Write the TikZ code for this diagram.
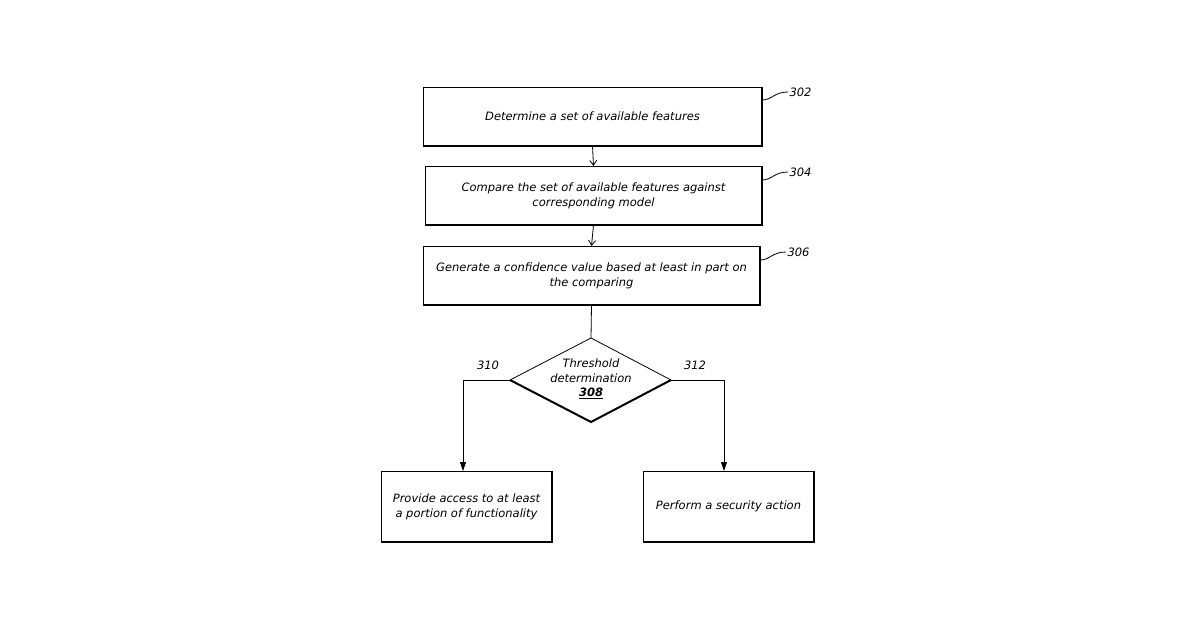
\documentclass[tikz,border=0pt]{standalone}
\usepackage{fontspec}
\setmainfont{DejaVu Sans}
\usetikzlibrary{arrows.meta}
\begin{document}
\begin{tikzpicture}[x=1pt,y=-1pt,
  txt/.style={font=\fontsize{11.5}{15}\selectfont\itshape,align=center},
  lbl/.style={font=\fontsize{11.5}{14}\selectfont\itshape},
  edge/.style={line width=0.8pt},
  arr/.style={line width=0.8pt,-{Straight Barb[length=5pt,width=7pt]}},
  farr/.style={line width=0.8pt,-{Triangle[length=9pt,width=6pt]}}]
\useasboundingbox (0,0) rectangle (1200,630);
\newcommand{\shbox}[5]{% name, x1,y1,x2,y2
  \draw[edge] (#2,#3) rectangle (#4,#5);
  \draw[line width=2pt] (#2+1,#5) -- (#4,#5) -- (#4,#3+1);
  \coordinate (#1) at ({(#2+#4)/2},{(#3+#5)/2});
  \coordinate (#1t) at ({(#2+#4)/2},#3);
  \coordinate (#1b) at ({(#2+#4)/2},#5);}
\shbox{b1}{423}{87}{762}{146}
\shbox{b2}{425}{166}{762}{225}
\shbox{b3}{423}{246}{760}{305}
\shbox{b4}{381}{471}{552}{542}
\shbox{b5}{643}{471}{814}{542}
\node[txt] (t1) at (b1) {Determine a set of available features};
\node[txt] (t2) at (b2) {Compare the set of available features against\\corresponding model};
\node[txt] (t3) at (b3) {Generate a confidence value based at least in part on\\the comparing};
\node[txt] (t4) at (b4) {Provide access to at least\\a portion of functionality};
\node[txt] (t5) at (b5) {Perform a security action};
% diamond
\coordinate (dt) at (591,338); \coordinate (dl) at (510,380);
\coordinate (dr) at (671,380); \coordinate (db) at (591,422);
\draw[edge] (dl) -- (dt) -- (dr);
\draw[line width=2pt] (dr) -- (db) -- (dl);
\node[txt] (t6) at (591,379) {Threshold\\determination\\[-1pt]\textbf{\underline{308}}};
% connectors
\draw[arr] (b1b) -- (b2t);
\draw[arr] (b2b) -- (b3t);
\draw[edge] (b3b) -- (dt);
\draw[farr] (dl) -- (463,380) -- (463,471);
\draw[farr] (dr) -- (724,380) -- (724,471);
% labels
\node[lbl,anchor=west] (l302) at (786,92) {302};
\node[lbl,anchor=west] (l304) at (786,172) {304};
\node[lbl,anchor=west] (l306) at (784,252) {306};
\node[lbl] (l310) at (488,365) {310};
\node[lbl] (l312) at (695,365) {312};
\draw[edge] (762,100) .. controls (772,100) and (774,92) .. (788,92);
\draw[edge] (762,180) .. controls (772,180) and (774,172) .. (788,172);
\draw[edge] (760,260) .. controls (770,260) and (772,252) .. (786,252);
\end{tikzpicture}
\end{document}
